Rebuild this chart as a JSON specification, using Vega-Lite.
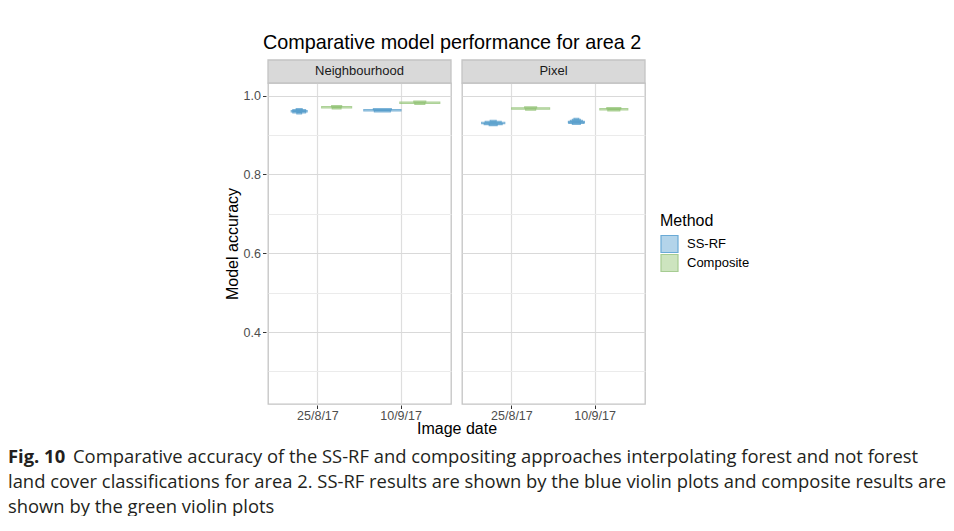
{
  "$schema": "https://vega.github.io/schema/vega-lite/v6.json",
  "background": "white",
  "padding": {"left": 8, "top": 32, "right": 0, "bottom": 0},
  "config": {
    "font": "Liberation Sans",
    "view": {"stroke": "#c4c4c4", "strokeWidth": 1.3},
    "axis": {
      "labelFont": "Liberation Sans", "labelFontSize": 12.5, "labelColor": "#4d4d4d",
      "titleFont": "Liberation Sans", "titleFontSize": 16, "titleFontWeight": "normal", "titleColor": "#000000",
      "tickColor": "#333333", "tickSize": 3.5, "domain": false, "gridColor": "#dedede"
    },
    "legend": {
      "titleFont": "Liberation Sans", "titleFontSize": 16, "titleFontWeight": "normal", "titleColor": "#000000",
      "labelFont": "Liberation Sans", "labelFontSize": 13, "labelColor": "#000000",
      "symbolType": "square", "symbolSize": 289, "symbolStrokeWidth": 1.2, "symbolOpacity": 1, "rowPadding": 1, "clipHeight": 18, "labelOffset": 8, "titlePadding": 6
    }
  },
  "spacing": 10.5,
  "vconcat": [
    {
      "spacing": 20,
      "hconcat": [
        {
          "width": 196,
          "height": 10,
          "view": {"stroke": null},
          "data": {"values": [{"note": ""}]},
          "mark": {"type": "text"},
          "encoding": {"text": {"field": "note", "type": "nominal"}}
        },
        {
          "title": {"text": "Comparative model performance for area 2", "fontSize": 19.8, "fontWeight": "normal", "font": "Liberation Sans", "color": "#000000", "anchor": "start", "frame": "group", "dx": -5, "offset": 6},
          "data": {"values": [
            {"panel": "Neighbourhood", "date": "25/8/17", "method": "SS-RF", "acc": 0.9655, "dens": 0.15},
            {"panel": "Neighbourhood", "date": "25/8/17", "method": "SS-RF", "acc": 0.9630, "dens": 0.32},
            {"panel": "Neighbourhood", "date": "25/8/17", "method": "SS-RF", "acc": 0.9605, "dens": 0.40},
            {"panel": "Neighbourhood", "date": "25/8/17", "method": "SS-RF", "acc": 0.9580, "dens": 0.32},
            {"panel": "Neighbourhood", "date": "25/8/17", "method": "SS-RF", "acc": 0.9555, "dens": 0.12},
            {"panel": "Neighbourhood", "date": "25/8/17", "method": "Composite", "acc": 0.9732, "dens": 0.25},
            {"panel": "Neighbourhood", "date": "25/8/17", "method": "Composite", "acc": 0.9707, "dens": 0.75},
            {"panel": "Neighbourhood", "date": "25/8/17", "method": "Composite", "acc": 0.9682, "dens": 0.22},
            {"panel": "Neighbourhood", "date": "10/9/17", "method": "SS-RF", "acc": 0.9655, "dens": 0.45},
            {"panel": "Neighbourhood", "date": "10/9/17", "method": "SS-RF", "acc": 0.9630, "dens": 0.93},
            {"panel": "Neighbourhood", "date": "10/9/17", "method": "SS-RF", "acc": 0.9605, "dens": 0.40},
            {"panel": "Neighbourhood", "date": "10/9/17", "method": "Composite", "acc": 0.9842, "dens": 0.30},
            {"panel": "Neighbourhood", "date": "10/9/17", "method": "Composite", "acc": 0.9817, "dens": 1.0},
            {"panel": "Neighbourhood", "date": "10/9/17", "method": "Composite", "acc": 0.9792, "dens": 0.25},
            {"panel": "Pixel", "date": "25/8/17", "method": "SS-RF", "acc": 0.9357, "dens": 0.15},
            {"panel": "Pixel", "date": "25/8/17", "method": "SS-RF", "acc": 0.9332, "dens": 0.40},
            {"panel": "Pixel", "date": "25/8/17", "method": "SS-RF", "acc": 0.9307, "dens": 0.58},
            {"panel": "Pixel", "date": "25/8/17", "method": "SS-RF", "acc": 0.9282, "dens": 0.45},
            {"panel": "Pixel", "date": "25/8/17", "method": "SS-RF", "acc": 0.9257, "dens": 0.20},
            {"panel": "Pixel", "date": "25/8/17", "method": "Composite", "acc": 0.9699, "dens": 0.30},
            {"panel": "Pixel", "date": "25/8/17", "method": "Composite", "acc": 0.9674, "dens": 0.95},
            {"panel": "Pixel", "date": "25/8/17", "method": "Composite", "acc": 0.9649, "dens": 0.25},
            {"panel": "Pixel", "date": "10/9/17", "method": "SS-RF", "acc": 0.9408, "dens": 0.12},
            {"panel": "Pixel", "date": "10/9/17", "method": "SS-RF", "acc": 0.9383, "dens": 0.20},
            {"panel": "Pixel", "date": "10/9/17", "method": "SS-RF", "acc": 0.9358, "dens": 0.30},
            {"panel": "Pixel", "date": "10/9/17", "method": "SS-RF", "acc": 0.9333, "dens": 0.40},
            {"panel": "Pixel", "date": "10/9/17", "method": "SS-RF", "acc": 0.9308, "dens": 0.38},
            {"panel": "Pixel", "date": "10/9/17", "method": "SS-RF", "acc": 0.9283, "dens": 0.20},
            {"panel": "Pixel", "date": "10/9/17", "method": "Composite", "acc": 0.9681, "dens": 0.35},
            {"panel": "Pixel", "date": "10/9/17", "method": "Composite", "acc": 0.9656, "dens": 0.70},
            {"panel": "Pixel", "date": "10/9/17", "method": "Composite", "acc": 0.9631, "dens": 0.30}
          ]},
          "facet": {"column": {"field": "panel", "type": "nominal", "sort": ["Neighbourhood", "Pixel"],
            "header": {"labels": false, "title": "Image date", "titleOrient": "bottom", "titleFontSize": 16, "titleFont": "Liberation Sans", "titleColor": "#000000", "titleFontWeight": "normal", "titlePadding": -11}}},
          "spacing": {"column": 7},
          "spec": {
            "width": 183,
            "height": 321,
            "layer": [
              {
                "transform": [{"aggregate": [{"op": "count", "as": "n"}], "groupby": ["panel"]}],
                "mark": {"type": "rect", "fill": "#d9d9d9", "stroke": "#c4c4c4", "strokeWidth": 1.3},
                "encoding": {"y": {"datum": 1.0904, "type": "quantitative"}, "y2": {"datum": 1.032}}
              },
              {
                "transform": [{"aggregate": [{"op": "count", "as": "n"}], "groupby": ["panel"]}],
                "mark": {"type": "text", "fontSize": 13, "color": "#1a1a1a", "font": "Liberation Sans", "baseline": "middle"},
                "encoding": {"y": {"datum": 1.0612, "type": "quantitative"}, "text": {"field": "panel", "type": "nominal"}}
              },
              {
                "mark": {"type": "tick", "thickness": 1.4, "strokeWidth": 1.1, "orient": "horizontal"},
                "encoding": {
                  "x": {"field": "date", "type": "nominal", "sort": ["25/8/17", "10/9/17"],
                    "scale": {"paddingInner": 0, "paddingOuter": 0.1},
                    "axis": {"title": null, "grid": true, "bandPosition": 0.5, "labelAngle": 0, "labelPadding": 0.5, "gridWidth": 1.2}},
                  "xOffset": {"field": "method", "type": "nominal", "sort": ["SS-RF", "Composite"],
                    "scale": {"paddingInner": 0, "paddingOuter": 0.111}},
                  "y": {"field": "acc", "type": "quantitative",
                    "scale": {"domain": [0.2173, 1.032], "nice": false, "zero": false},
                    "axis": {"title": "Model accuracy", "titlePadding": 3, "labelPadding": 2, "grid": true, "gridWidth": 1,
                      "values": [0.3, 0.4, 0.5, 0.6, 0.7, 0.8, 0.9, 1.0],
                      "labelExpr": "(round(datum.value*10) % 2 == 0) ? format(datum.value, '.1f') : ''",
                      "tickOpacity": {"condition": {"test": "round(datum.value*10) % 2 == 0", "value": 1}, "value": 0},
                      "gridColor": {"condition": {"test": "round(datum.value*10) % 2 == 0", "value": "#d9d9d9"}, "value": "#ebebeb"}}},
                  "size": {"field": "dens", "type": "quantitative", "scale": {"domain": [0, 1], "range": [0, 40]}, "legend": null},
                  "fill": {"field": "method", "type": "nominal", "sort": ["SS-RF", "Composite"], "title": "Method",
                    "scale": {"range": ["#b3d4ea", "#cde4bf"]},
                    "legend": {"orient": "none", "legendX": 652, "legendY": 130,
                      "symbolStrokeColor": {"expr": "datum.value == 'SS-RF' ? '#6aaad6' : '#a6cc92'"}}},
                  "stroke": {"field": "method", "type": "nominal", "sort": ["SS-RF", "Composite"],
                    "scale": {"range": ["#4a96c8", "#8bbf6c"]}, "legend": null}
                }
              }
            ]
          }
        }
      ]
    },
    {
      "width": 938,
      "height": 50,
      "view": {"stroke": null},
      "data": {"values": [
        {"line": 1, "part": "fig", "text": "Fig. 10"},
        {"line": 1, "part": "body", "text": "Comparative accuracy of the SS-RF and compositing approaches interpolating forest and not forest"},
        {"line": 2, "part": "body", "text": "land cover classifications for area 2. SS-RF results are shown by the blue violin plots and composite results are"},
        {"line": 3, "part": "body", "text": "shown by the green violin plots"}
      ]},
      "encoding": {
        "y": {"field": "line", "type": "ordinal", "scale": {"type": "point", "padding": 0}, "axis": null},
        "x": {"datum": 0, "type": "quantitative", "scale": {"domain": [0, 1]}, "axis": null},
        "text": {"field": "text", "type": "nominal"}
      },
      "layer": [
        {"transform": [{"filter": "datum.part == 'fig'"}],
         "mark": {"type": "text", "align": "left", "baseline": "middle", "font": "Open Sans", "fontWeight": "bold", "fontSize": 18.4, "color": "#231f20"}},
        {"transform": [{"filter": "datum.part == 'body' && datum.line == 1"}],
         "mark": {"type": "text", "align": "left", "baseline": "middle", "font": "Open Sans", "fontSize": 18.4, "color": "#231f20", "dx": 65}},
        {"transform": [{"filter": "datum.part == 'body' && datum.line > 1"}],
         "mark": {"type": "text", "align": "left", "baseline": "middle", "font": "Open Sans", "fontSize": 18.4, "color": "#231f20"}}
      ]
    }
  ]
}
